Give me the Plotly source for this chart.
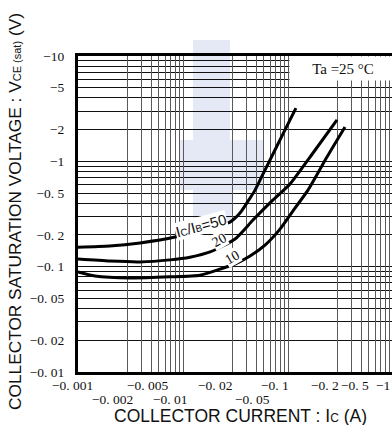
import numpy as np
import plotly.graph_objects as go

# ---------------- data (PNP transistor, values are negative) ----------------
ratio_labels = ["50", "20", "10"]          # Ic/Ib

ic_50 = [-0.001, -0.002, -0.0039, -0.0084, -0.0145, -0.028, -0.0349, -0.0435,
         -0.0485, -0.0565, -0.0674, -0.0896, -0.119]
vce_50 = [-0.153, -0.157, -0.168, -0.191, -0.223, -0.265, -0.323, -0.448,
          -0.533, -0.724, -1.03, -1.82, -3.2]

ic_20 = [-0.001, -0.00202, -0.00389, -0.0075, -0.01166, -0.0181, -0.0313,
         -0.0464, -0.072, -0.1045, -0.173, -0.293]
vce_20 = [-0.118, -0.113, -0.111, -0.116, -0.123, -0.138, -0.183,
          -0.277, -0.43, -0.609, -1.2, -2.47]

ic_10 = [-0.001, -0.00145, -0.00313, -0.0075, -0.0145, -0.0225, -0.0313,
         -0.0435, -0.0604, -0.0839, -0.1166, -0.155, -0.235, -0.349]
vce_10 = [-0.089, -0.0815, -0.078, -0.080, -0.083, -0.0948, -0.106,
          -0.126, -0.160, -0.227, -0.360, -0.533, -1.1, -2.12]

x_tick_vals = [-0.001, -0.002, -0.005, -0.01, -0.02, -0.05, -0.1, -0.2, -0.5, -1]
x_tick_text = ["−0. 001", "−0. 002", "−0. 005", "−0. 01", "−0. 02", "−0. 05",
               "−0. 1", "−0. 2", "−0. 5", "−1"]
y_tick_vals = [-0.01, -0.02, -0.05, -0.1, -0.2, -0.5, -1, -2, -5, -10]
y_tick_text = ["−0. 01", "−0. 02", "−0. 05", "−0. 1", "−0. 2", "−0. 5",
               "−1", "−2", "−5", "−10"]

# ---------------- styling / layout constants ----------------
W, H = 392, 425
ML, MR, MT, MB = 78, 0, 56, 53
PX_PER_DEC = 105.0
X_LOG_MIN = -3.0
X_LOG_MAX = X_LOG_MIN + (W - ML - MR) / PX_PER_DEC
GRID_SQUEEZE = 80.0 / 105.0    # vertical grid drawn compressed inside each decade
x_row = [0, 1, 0, 1, 0, 1, 0, 0, 0, 0]            # staggered label rows
x_shift = [-6, 3, -3, -13, 1, -4, -13, 5, -6, -10]  # label offsets (px)
SERIF = "Liberation Serif"
SANS = "Liberation Sans"
PW, PH = W - ML - MR, H - MT - MB
TICK_SIZE = 13.5
WATERMARK = "#e4e9f5"


def px_x(px):
    return (px - ML) / PW


def px_y(py):
    return 1 - (py - MT) / PH


def log_x_paper(v):
    return (np.log10(abs(v)) - X_LOG_MIN) / (X_LOG_MAX - X_LOG_MIN)


fig = go.Figure()

curves = [(ic_50, vce_50), (ic_20, vce_20), (ic_10, vce_10)]
for (xs, ys), name in zip(curves, ratio_labels):
    fig.add_trace(go.Scatter(
        x=np.abs(xs), y=np.abs(ys), mode="lines", name=name,
        line=dict(color="black", width=3, shape="spline", smoothing=0.6),
        hoverinfo="skip", showlegend=False))

# invisible trace to carry the secondary (grid) x axis
fig.add_trace(go.Scatter(x=[0.01], y=[0.1], xaxis="x2", mode="markers",
                         marker=dict(opacity=0), showlegend=False, hoverinfo="skip"))

# minor grid values
x_grid = []
for dec in [0.001, 0.01, 0.1]:
    for k in range(2, 11):
        x_grid.append(10 ** (np.log10(dec * 10) - GRID_SQUEEZE * (1 - np.log10(k))))
y_grid = []
for dec in [0.01, 0.1, 1]:
    for k in range(1, 11):
        y_grid.append(dec * k)
y_grid = sorted(set(np.round(y_grid, 6)))
y_lab = {round(abs(v), 6): t for v, t in zip(y_tick_vals, y_tick_text)}
y_text = [y_lab.get(round(v, 6), "") for v in y_grid]

fig.update_layout(
    width=W, height=H,
    margin=dict(l=ML, r=MR, t=MT, b=MB, autoexpand=False),
    paper_bgcolor="white", plot_bgcolor="rgba(0,0,0,0)",
    xaxis=dict(type="log", range=[X_LOG_MIN, X_LOG_MAX], showgrid=False,
               showticklabels=False, ticks="", zeroline=False,
               showline=True, linecolor="black", linewidth=3, mirror=True),
    xaxis2=dict(type="log", range=[X_LOG_MIN, X_LOG_MAX], overlaying="x",
                showgrid=True, gridcolor="#5a5a5a", gridwidth=1.2,
                tickmode="array", tickvals=x_grid, showticklabels=False,
                ticks="", zeroline=False, showline=False),
    yaxis=dict(type="log", range=[-2, 1], showgrid=True, gridcolor="#111111",
               gridwidth=1, tickmode="array", tickvals=y_grid, ticktext=y_text,
               ticks="", ticklabelstandoff=8, zeroline=False,
               tickfont=dict(family=SERIF, size=TICK_SIZE, color="#111"),
               showline=True, linecolor="black", linewidth=3),
    font=dict(family=SANS, color="#111"),
)

# faint background watermark (below the grid)
wm_polys = [
    [(193, 40), (230, 40), (230, 140), (263, 140), (263, 190), (233, 190),
     (233, 223), (193, 223), (193, 190), (180, 190), (180, 140), (193, 140)],
]
for poly in wm_polys:
    path = "M " + " L ".join(f"{px_x(a):.4f},{px_y(b):.4f}" for a, b in poly) + " Z"
    fig.add_shape(type="path", path=path, xref="paper", yref="paper",
                  fillcolor=WATERMARK, line=dict(width=0), layer="below")

# x tick labels (staggered)
for v, t, r, dx in zip(x_tick_vals, x_tick_text, x_row, x_shift):
    fig.add_annotation(x=log_x_paper(v), xref="paper", y=0, yref="paper",
                       text=t, showarrow=False, xanchor="center", yanchor="middle",
                       yshift=-13 - 14.5 * r, xshift=dx,
                       font=dict(family=SERIF, size=TICK_SIZE, color="#111"))

# axis titles
fig.add_annotation(x=px_x(240), xref="paper", y=px_y(415.5), yref="paper", showarrow=False,
                   text="COLLECTOR CURRENT : I<span style='font-size:12px'>C</span> (A)",
                   font=dict(family=SANS, size=17.5, color="#111"),
                   xanchor="center", yanchor="middle")
fig.add_annotation(x=px_x(15), xref="paper", y=px_y(212), yref="paper",
                   showarrow=False, textangle=-90,
                   text="COLLECTOR SATURATION VOLTAGE : V<span style='font-size:11px'>CE (sat)</span> (V)",
                   font=dict(family=SANS, size=17.3, color="#111"),
                   xanchor="center", yanchor="middle")

# Ta box (white label box covering the grid in the top-right corner)
fig.add_annotation(x=px_x(289), xref="paper", y=1.0, yref="paper", showarrow=False,
                   xanchor="left", yanchor="top", width=106, height=23,
                   align="center", valign="middle", bgcolor="white", borderpad=0,
                   text="Ta =25 °C", font=dict(family=SERIF, size=15, color="#111"))

# curve labels
lab_pos = [(0.0148, 0.248, -15), (0.0218, 0.179, -30), (0.0292, 0.123, -30)]
lab_txt = ["I<span style='font-size:10px'>C</span>/I<span style='font-size:10px'>B</span>=50",
           "20", "10"]
lab_font = [SANS, SERIF, SERIF]
for (lx, ly, ang), t, f in zip(lab_pos, lab_txt, lab_font):
    fig.add_annotation(x=np.log10(lx), y=np.log10(ly), xref="x", yref="y",
                       text=t, showarrow=False, textangle=ang,
                       bgcolor="white", borderpad=0,
                       font=dict(family=f, size=15 if f == SANS else 14, color="#111"))

fig.write_html("out.html", config={"displayModeBar": False},
               post_script="document.body.style.margin='0px';"
                           "document.body.style.overflow='hidden';")
